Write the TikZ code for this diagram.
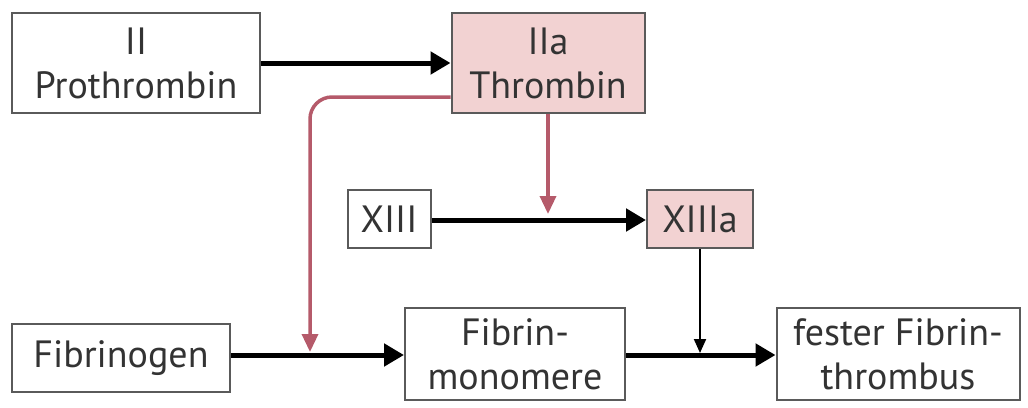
\documentclass[tikz,border=0pt]{standalone}
\usepackage{fontspec}
\setmainfont{PT Sans}
\usetikzlibrary{arrows.meta}
\definecolor{boxline}{HTML}{5A5A5A}
\definecolor{pinkfill}{HTML}{F2D2D2}
\definecolor{redline}{HTML}{B55A6A}
\definecolor{txt}{HTML}{333333}
\tikzset{
  box/.style={draw=boxline, line width=2pt, fill=white, align=center, text=txt,
    font=\fontsize{38}{44}\selectfont, inner sep=0pt},
  pinkbox/.style={box, fill=pinkfill},
  blackarrow/.style={line width=5pt, -{Triangle[length=20pt,width=22pt]}},
  thinarrow/.style={line width=2pt, -{Triangle[length=14pt,width=12pt]}},
  redarrow/.style={draw=redline, line width=3.5pt, rounded corners=22pt, -{Triangle[length=18pt,width=16pt]}}
}
\begin{document}
\begin{tikzpicture}[x=1pt,y=-1pt]
\useasboundingbox (0,0) rectangle (1028,407);
\node[box, minimum width=248pt, minimum height=100pt] (pro) at (136,63) {II\\Prothrombin};
\node[pinkbox, minimum width=193pt, minimum height=100pt] (thr) at (548,63) {IIa\\Thrombin};
\node[box, minimum width=83pt, minimum height=58pt] (xiii) at (389,219) {XIII};
\node[pinkbox, minimum width=106pt, minimum height=58pt] (xiiia) at (700,219) {XIIIa};
\node[box, minimum width=218pt, minimum height=68pt] (fgn) at (121,358) {Fibrinogen};
\node[box, minimum width=220pt, minimum height=92pt] (mono) at (515,354) {Fibrin-\\monomere};
\node[box, minimum width=243pt, minimum height=92pt] (fest) at (898,354) {fester Fibrin-\\thrombus};
\coordinate (redin) at (310,352);
\coordinate (xiiiin) at (548,214);
\coordinate (fin) at (700,353);
\draw[blackarrow] (pro.east |- 0,63) -- (thr.west |- 0,63);
\draw[blackarrow] (xiii.east |- 0,220) -- (xiiia.west |- 0,220);
\draw[blackarrow] (fgn.east |- 0,355) -- (mono.west |- 0,355);
\draw[blackarrow] (mono.east |- 0,355) -- (fest.west |- 0,355);
\draw[thinarrow] (xiiia.south) -- (fin);
\draw[redarrow] (thr.west |- 0,97) -- (310,97) -- (redin);
\draw[redarrow] (thr.south) -- (xiiiin);
\end{tikzpicture}
\end{document}
